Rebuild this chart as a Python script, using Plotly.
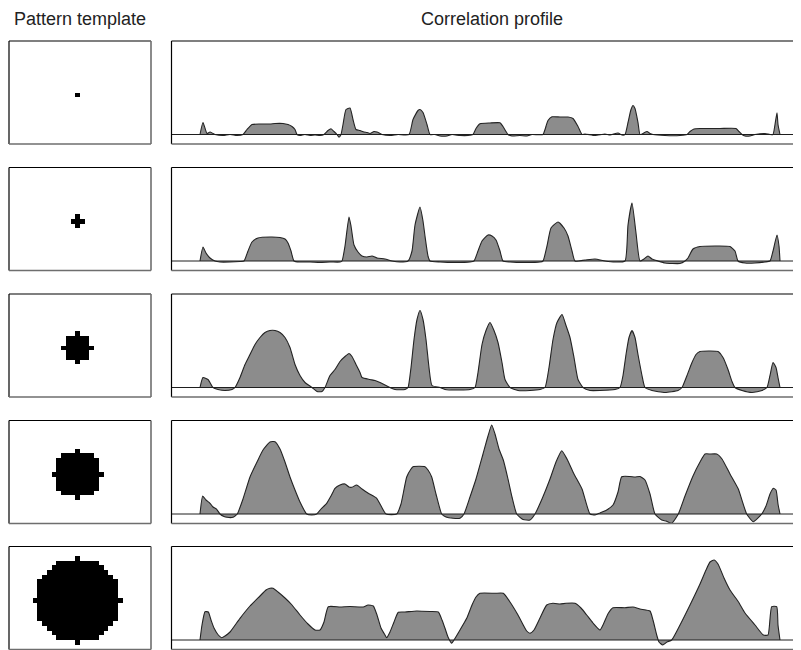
import numpy as np
import plotly.graph_objects as go

# page body has an 8px margin, so the figure is placed 8px in from the window corner
OFF = 8
W, H = 801 - OFF, 650 - OFF

# ---------------- data ----------------
titles = ["Pattern template", "Correlation profile"]
radii = [0, 1, 3, 5, 9]          # disc radius of each pattern template (in template pixels)
grid_cols, grid_rows = 30, 22    # template image size
center_col, center_row = 14, 11

row1_x = [0, 3, 7, 10, 13, 15, 23, 30, 37, 43, 47, 52, 60, 70, 75, 83, 88, 92, 95, 97, 100, 105, 110, 115, 120,
          124, 128, 131, 134, 137, 139, 141, 143, 146, 150, 153, 156, 160, 164, 167, 170, 174, 177, 182, 190, 198,
          209, 213, 218, 220, 223, 227, 230, 235, 240, 247, 252, 260, 268, 273, 276, 280, 290, 300, 303, 306, 308,
          312, 320, 327, 332, 343, 345, 348, 352, 360, 368, 373, 378, 382, 385, 395, 405, 410, 418, 422, 425, 428,
          431, 433, 435, 438, 440, 443, 447, 450, 453, 465, 480, 487, 490, 494, 500, 520, 536, 539, 542, 545, 550,
          555, 565, 570, 573, 575, 577, 578, 580]
row1_y = [0, 12, 1, 2.5, 1, 0, -1, 0, -1, 0, 5, 10, 10.5, 10.5, 11, 11, 10, 8, 5, 0, -1, 0, -1, -0.5, -1,
          0, 4, 5.7, 3, 0, -2.7, 0, 10, 25, 26.5, 15, 5, 4, 2.5, 2, 1, 3, 2.5, 0, -1, 0,
          0, 15, 24, 25, 22, 10, 0, 0, -1.5, -1.5, 0, -1, -1, 0, 6, 10.7, 11.5, 11.7, 8, 3, 0,
          -1.5, -1, -1.5, 0, 0, 5, 14, 17.7, 17.5, 17.5, 16, 8, 0, 0.5, -1, 0.5, -0.5, 1.5, -0.5, 0, 12,
          25, 29, 26, 12, 0, 1, 3, 1, 0, -1, -1, 0, 3, 5.5, 6, 6, 6, 3, 0, -1.5, -1.5,
          0, 1, 0, 0, 10, 21.7, 10, 0]

row2_x = [0, 3, 6, 10, 15, 20, 30, 40, 44, 48, 52, 58, 70, 80, 85, 88, 91, 94, 100, 110, 120, 130, 140, 142, 145,
          149, 151, 154, 158, 162, 167, 172, 177, 185, 192, 200, 208, 212, 215, 220, 223, 225, 228, 230, 240, 255,
          270, 274, 278, 282, 288, 292, 296, 300, 303, 310, 325, 340, 343, 347, 351, 358, 364, 368, 372, 375, 385,
          395, 405, 415, 425, 428, 432, 436, 440, 444, 448, 452, 458, 465, 480, 485, 488, 493, 500, 515, 530, 535,
          538, 545, 555, 565, 570, 573, 577, 579, 580]
row2_y = [0, 14, 8, 3, 0, -1, -1, -0.5, 0, 10, 19, 23, 24, 23.5, 22, 18, 10, 0, -1, -1, -1.5, -1, -1, 0, 15,
          44, 35, 16, 9, 5, 4, 5, 3, 2, 0, -1, 0, 10, 36, 54, 40, 25, 5, 0, -1, -1.5,
          -1, 0, 10, 20, 26, 25, 21, 10, 0, -1, -1.5, -1, 0, 15, 33, 39, 33, 25, 10, 0, 1,
          2, 0, -1, 0, 36, 58, 28, 0, 2, 5, 2, 0, -2, -2.5, 0, 3, 12, 14.5, 15, 14.5, 10,
          0, -2, -2, -1, 0, 10, 26, 15, 0]

row3_x = [0, 3, 8, 13, 18, 25, 32, 35, 40, 45, 50, 55, 60, 65, 70, 75, 80, 85, 90, 95, 100, 105, 112, 117, 122,
          125, 130, 135, 140, 145, 149, 152, 156, 160, 162, 170, 175, 180, 190, 195, 205, 208, 211, 214, 217, 220,
          223, 226, 229, 232, 240, 245, 260, 270, 275, 278, 282, 286, 290, 294, 298, 302, 305, 310, 318, 330, 340,
          345, 349, 353, 357, 362, 366, 370, 374, 378, 383, 390, 400, 415, 420, 423, 426, 429, 432, 435, 438, 442,
          445, 452, 465, 478, 482, 487, 492, 496, 500, 510, 518, 523, 528, 532, 535, 542, 552, 562, 567, 570, 573,
          576, 578, 580]
row3_y = [0, 10, 8, 0, -2, -3, -2, 0, 10, 23, 33, 43, 50, 55, 57, 57, 55, 50, 40, 23, 12, 5, 0, -4, -4,
          0, 12, 18, 26, 31, 34, 31, 23, 15, 10, 8, 7, 5, 0, -2, -2, 0, 20, 48, 68, 77,
          68, 48, 20, 2, 0, -2, -2.5, -2, 0, 15, 43, 57, 65, 57, 45, 25, 8, 0, -3, -3, -2,
          0, 20, 48, 65, 73, 62, 50, 30, 8, 0, -3, -3, -2, 0, 12, 33, 50, 57, 50, 33, 12,
          0, -3, -5, -3, 0, 12, 25, 33, 36, 36.5, 36, 30, 18, 6, 0, -3, -5, -3, 0, 12, 25,
          20, 10, 0]

row4_x = [0, 2.7, 6, 10, 13, 16.7, 20, 24, 27, 33, 35, 37.3, 43, 50, 57, 63, 70, 75, 80, 85, 90, 95, 100, 106.7,
          111.7, 116.7, 121, 126.7, 131, 135, 140, 145, 149, 151.7, 156.7, 162, 168.3, 176.7, 186, 196.7, 201,
          206.7, 211, 213, 225, 228, 231.7, 236, 241.7, 246, 253, 260, 264, 270, 276, 283, 288, 291.7, 295, 299,
          303.3, 308, 312, 316.7, 323, 330, 335, 342, 350, 356, 361.7, 367, 374, 382, 390, 395, 400, 406.7, 413,
          418, 421.7, 430, 435, 440, 445, 450, 455, 461.7, 466, 471.7, 478.3, 485, 493, 500, 505, 510, 516.7, 522,
          530, 538.3, 546.7, 553.3, 561.7, 566, 570, 573.3, 576, 578, 580]
row4_y = [0, 18, 14, 10.7, 7, 4.7, 0, -2.5, -3.3, -3.3, -2, 0, 15, 37, 52, 64, 72, 72.3, 65, 52, 37, 24, 12, 0,
          -1, 0, 5, 10.7, 18, 25.7, 29, 30, 27, 26.7, 29, 25, 20.7, 15.7, 0, 0, 10,
          37, 45, 47.3, 47.3, 44, 37, 20, 0, -3, -4.3, -4.3, 0, 17, 35, 60, 78, 89, 80, 65,
          54, 35, 17, 0, -5.5, -6, 0, 15, 35, 52, 63.3, 55, 40, 25, 0, -1, 1, 4, 9,
          22, 37.3, 37.5, 37, 37.5, 34, 20, 0, -6, -7, -9.3, 0, 18, 38, 52, 60, 60, 60, 55,
          40, 25, 0, -7.7, 0, 8, 20, 25.7, 24, 10, 0]

row5_x = [0, 2, 5, 8.3, 11, 14, 18.3, 21.7, 25, 30, 40, 50, 60, 66, 70, 73, 78, 85, 92, 100, 108, 115, 120, 124,
          128.3, 140, 150, 163.3, 168, 173.3, 177, 181, 185, 186.7, 190, 194, 198.3, 205, 216.7, 230, 238.3, 242,
          245, 248, 251.7, 254, 260, 266.7, 272, 276, 280, 295, 303.3, 310, 318, 326.7, 330, 334, 340, 346.7, 353,
          360, 366, 375, 381, 386.7, 393, 400, 403, 408.3, 413, 425, 433, 440, 450, 453, 456.7, 459, 462.7, 467,
          471.7, 480, 490, 500, 506, 510, 514, 518, 524, 530, 538.3, 545, 555, 563.3, 568, 571.7, 576.7, 578, 580]
row5_y = [0, 15, 28.3, 28, 20, 12, 5, 2.3, 4, 8, 21.7, 34, 44, 50, 51.7, 51.7, 48, 42, 35, 25, 16, 10, 10, 18,
          33.3, 33, 33.5, 33, 35, 34, 25, 12, 5, 2.3, 8, 18, 27.7, 28, 29, 28.5, 28, 20,
          11.7, 3, -3.3, 0, 10, 21.7, 35, 43, 46.7, 46.7, 46.7, 38, 25, 9, 6.7, 10, 22, 35, 36.7,
          36, 36.7, 36.7, 32, 25, 17, 10, 15, 26.7, 32.3, 32.3, 33, 31, 29, 20, 5, -2, -5, -2,
          0, 15, 35, 56, 70, 78, 80, 76, 62, 50, 38.3, 27, 15, 5, 5, 33.3, 33.3, 15, 0]

profiles_x = [row1_x, row2_x, row3_x, row4_x, row5_x]
profiles_y = [row1_y, row2_y, row3_y, row4_y, row5_y]

# ---------------- layout geometry (window pixels) ----------------
row_tops = [41, 167.5, 294, 420.5, 546.5]
box_h = 103
left_x0, left_x1 = 9, 151
right_x0, right_x1 = 171.5, 800

def px_x(p):
    return min(1.0, max(0.0, (p - OFF) / W))

def px_y(p):
    return min(1.0, max(0.0, 1 - (p - OFF) / H))

fig = go.Figure()
layout = dict(
    width=W, height=H, margin=dict(l=0, r=0, t=0, b=0, pad=0),
    paper_bgcolor="white", plot_bgcolor="white", showlegend=False,
)
shapes = []
annotations = []

cc, rr = np.meshgrid(np.arange(grid_cols), np.arange(grid_rows))
for i in range(5):
    top = row_tops[i]
    bot = top + box_h
    ydom = [px_y(bot), px_y(top)]
    la = 2 * i + 1
    ra = 2 * i + 2
    # template
    r = radii[i]
    mask = (((cc - center_col) ** 2 + (rr - center_row) ** 2) <= r * r).astype(float)
    fig.add_trace(go.Heatmap(z=mask, x=np.arange(grid_cols), y=np.arange(grid_rows),
                             colorscale=[[0, "white"], [1, "black"]], zmin=0, zmax=1,
                             showscale=False, hoverinfo="skip",
                             xaxis=f"x{la}", yaxis=f"y{la}"))
    layout[f"xaxis{la}"] = dict(domain=[px_x(left_x0), px_x(left_x1)], range=[-0.5, grid_cols - 0.5],
                                 visible=False, anchor=f"y{la}", fixedrange=True)
    layout[f"yaxis{la}"] = dict(domain=ydom, range=[grid_rows - 0.5, -0.5],
                                 visible=False, anchor=f"x{la}", fixedrange=True)
    # profile
    fig.add_trace(go.Scatter(x=profiles_x[i], y=profiles_y[i], mode="lines", fill="tozeroy",
                             fillcolor="rgb(140,140,140)",
                             line=dict(color="rgb(35,35,35)", width=1.1, shape="spline", smoothing=0.5),
                             hoverinfo="skip", xaxis=f"x{ra}", yaxis=f"y{ra}"))
    layout[f"xaxis{ra}"] = dict(domain=[px_x(right_x0), px_x(right_x1)], range=[-28.5, 600],
                                 visible=False, anchor=f"y{ra}", fixedrange=True)
    layout[f"yaxis{ra}"] = dict(domain=ydom, range=[-9.5, box_h - 9.5],
                                 visible=False, anchor=f"x{ra}", fixedrange=True)
    # baseline
    shapes.append(dict(type="line", xref=f"x{ra} domain", yref=f"y{ra}", x0=0, x1=1, y0=0, y1=0,
                       line=dict(color="rgb(30,30,30)", width=1)))
    # box borders (dark top/left, grey bottom/right)
    for x0, x1 in [(left_x0, left_x1), (right_x0, right_x1)]:
        shapes.append(dict(type="line", xref="paper", yref="paper", x0=px_x(x0), x1=px_x(x1),
                           y0=px_y(top), y1=px_y(top), line=dict(color="black", width=1.2)))
        shapes.append(dict(type="line", xref="paper", yref="paper", x0=px_x(x0), x1=px_x(x0),
                           y0=px_y(top), y1=px_y(bot), line=dict(color="black", width=1.2)))
        shapes.append(dict(type="line", xref="paper", yref="paper", x0=px_x(x0), x1=px_x(x1),
                           y0=px_y(bot), y1=px_y(bot), line=dict(color="rgb(110,110,110)", width=1.6)))
        shapes.append(dict(type="line", xref="paper", yref="paper", x0=px_x(x1), x1=px_x(x1),
                           y0=px_y(top), y1=px_y(bot), line=dict(color="rgb(110,110,110)", width=1.6)))

title_font = dict(family="Liberation Sans, Arial", size=18, color="#222")
annotations.append(dict(text=titles[0], x=px_x(80), y=px_y(8), xref="paper", yref="paper",
                        xanchor="center", yanchor="top", showarrow=False, font=title_font,
                        borderpad=0))
annotations.append(dict(text=titles[1], x=px_x(492), y=px_y(8), xref="paper", yref="paper",
                        xanchor="center", yanchor="top", showarrow=False, font=title_font,
                        borderpad=0))

layout["shapes"] = shapes
layout["annotations"] = annotations
fig.update_layout(**layout)
fig.write_html("out.html")
